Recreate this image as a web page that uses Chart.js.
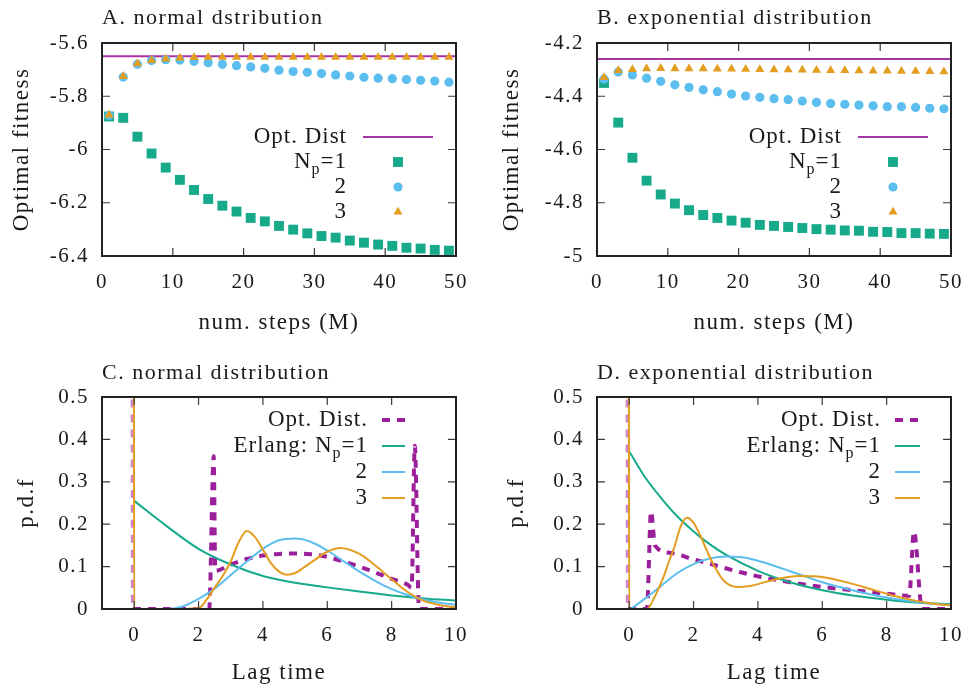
<!DOCTYPE html>
<html>
<head>
<meta charset="utf-8">
<script src="https://cdn.jsdelivr.net/npm/chart.js@4"></script>
<style>
  body { margin: 0; background: #fff; }
  #wrap { position: relative; width: 979px; height: 690px; }
  canvas { position: absolute; }
</style>
</head>
<body>
<div id="wrap">
  <canvas id="chartA" width="490" height="340" style="left:0;top:0"></canvas>
  <canvas id="chartB" width="489" height="340" style="left:490px;top:0"></canvas>
  <canvas id="chartC" width="490" height="350" style="left:0;top:340px"></canvas>
  <canvas id="chartD" width="489" height="350" style="left:490px;top:340px"></canvas>
</div>
<script>
// ---- data: panels A/B (optimal fitness vs. number of steps) ----
const stepsM = [1, 3, 5, 7, 9, 11, 13, 15, 17, 19, 21, 23, 25, 27, 29, 31, 33, 35, 37, 39, 41, 43, 45, 47, 49];
const stepsRange = [0, 50];
const stepTicks = [0, 10, 20, 30, 40, 50];

const optDistA = -5.65;
const fitNormal1 = [-5.876, -5.881, -5.952, -6.015, -6.068, -6.114, -6.152, -6.186, -6.211, -6.233, -6.257, -6.270, -6.287,
  -6.301, -6.315, -6.325, -6.331, -6.342, -6.350, -6.357, -6.362, -6.369, -6.372, -6.377, -6.380];
const fitNormal2 = [-5.872, -5.728, -5.680, -5.666, -5.663, -5.664, -5.669, -5.674, -5.680, -5.685, -5.690, -5.695, -5.702,
  -5.707, -5.710, -5.715, -5.720, -5.724, -5.729, -5.732, -5.734, -5.737, -5.740, -5.743, -5.747];
const fitNormal3 = [-5.870, -5.725, -5.678, -5.665, -5.660, -5.656, -5.654, -5.653, -5.653, -5.653, -5.653, -5.653, -5.653,
  -5.653, -5.653, -5.653, -5.653, -5.653, -5.653, -5.653, -5.653, -5.653, -5.653, -5.653, -5.653];
const fitTicksA = [-6.4, -6.2, -6, -5.8, -5.6];

const optDistB = -4.26;
const fitExp1 = [-4.350, -4.499, -4.631, -4.717, -4.769, -4.803, -4.828, -4.846, -4.857, -4.867, -4.875, -4.883, -4.887,
  -4.891, -4.895, -4.899, -4.901, -4.904, -4.905, -4.909, -4.910, -4.914, -4.914, -4.916, -4.917];
const fitExp2 = [-4.335, -4.309, -4.320, -4.332, -4.344, -4.357, -4.367, -4.376, -4.383, -4.392, -4.399, -4.404, -4.409,
  -4.413, -4.418, -4.423, -4.427, -4.430, -4.433, -4.436, -4.439, -4.439, -4.442, -4.445, -4.447];
const fitExp3 = [-4.329, -4.303, -4.299, -4.296, -4.295, -4.296, -4.296, -4.296, -4.297, -4.297, -4.298, -4.299, -4.300,
  -4.300, -4.301, -4.302, -4.303, -4.303, -4.304, -4.305, -4.305, -4.306, -4.306, -4.307, -4.308];
const fitTicksB = [-5, -4.8, -4.6, -4.4, -4.2];

const keyLabelsAB = ["Opt. Dist", "N_p=1", "2", "3"];

// ---- data: panels C/D (p.d.f. of lag time) ----
const lagTicks = [0, 2, 4, 6, 8, 10];
const pdfTicks = [0, 0.1, 0.2, 0.3, 0.4, 0.5];
const keyLabelsCD = ["Opt. Dist.", "Erlang: N_p=1", "2", "3"];

const optLagC = [-0.05, -0.04, 2.33, 2.47, 2.52, 3, 3.5, 4, 4.5, 5, 5.5, 6, 6.5, 7, 7.5, 8, 8.5, 8.62, 8.72, 8.85, 10];
const optPdfC = [0.6, 0, 0, 0.36, 0.09, 0.105, 0.118, 0.126, 0.13, 0.131, 0.129, 0.123, 0.112, 0.1, 0.086, 0.071, 0.057, 0.05, 0.385, 0, 0];
const erl1LagC = [0, 1, 2, 3, 4, 5, 6, 7, 8, 9, 10];
const erl1PdfC = [0.255, 0.196, 0.142, 0.105, 0.078, 0.062, 0.051, 0.041, 0.032, 0.025, 0.02];
const erl2LagC = [0, 1, 1.5, 2, 2.5, 3, 3.5, 4, 4.5, 5, 5.5, 6, 6.5, 7, 7.5, 8, 8.5, 9, 9.5, 10];
const erl2PdfC = [0, 0, 0.006, 0.024, 0.048, 0.08, 0.112, 0.142, 0.162, 0.166, 0.158, 0.138, 0.113, 0.088, 0.066, 0.047, 0.033, 0.022, 0.015, 0.01];
const erl3LagC = [-0.01, 0, 1, 2, 2.25, 2.5, 2.75, 3, 3.25, 3.5, 3.75, 4, 4.25, 4.5, 4.75, 5, 5.5, 6, 6.4, 7, 7.5, 8, 8.5, 9, 9.5, 10];
const erl3PdfC = [0.6, 0, 0, 0.002, 0.022, 0.05, 0.078, 0.112, 0.158, 0.184, 0.17, 0.14, 0.108, 0.088, 0.081, 0.085, 0.11, 0.135, 0.144, 0.13, 0.102, 0.07, 0.04, 0.019, 0.009, 0.004];

const optLagD = [-0.05, -0.04, 0.55, 0.68, 0.8, 1.3, 2, 2.5, 3, 3.5, 4, 5, 6, 7, 8, 8.7, 8.85, 9.1, 10];
const optPdfD = [0.6, 0, 0, 0.23, 0.15, 0.132, 0.117, 0.107, 0.096, 0.086, 0.077, 0.063, 0.052, 0.044, 0.036, 0.031, 0.183, 0, 0];
const erl1LagD = [0, 0.5, 1, 1.5, 2, 2.5, 3, 4, 5, 6, 7, 8, 9, 10];
const erl1PdfD = [0.372, 0.31, 0.261, 0.218, 0.183, 0.153, 0.128, 0.09, 0.063, 0.044, 0.031, 0.022, 0.015, 0.011];
const erl2LagD = [0.05, 0.5, 1, 1.5, 2, 2.5, 3, 3.5, 4, 4.5, 5, 5.5, 6, 7, 8, 9, 10];
const erl2PdfD = [0, 0.025, 0.055, 0.085, 0.106, 0.119, 0.124, 0.122, 0.114, 0.102, 0.089, 0.076, 0.063, 0.043, 0.027, 0.016, 0.009];
const erl3LagD = [-0.01, 0, 0.55, 0.8, 1.05, 1.25, 1.4, 1.6, 1.8, 2, 2.2, 2.4, 2.65, 2.95, 3.35, 3.8, 4.25, 4.75, 5.25, 5.75, 6.25, 7, 7.5, 8, 8.5, 9, 9.5, 10];
const erl3PdfD = [0.6, 0, 0, 0.03, 0.072, 0.115, 0.145, 0.195, 0.215, 0.203, 0.175, 0.14, 0.1, 0.066, 0.052, 0.055, 0.064, 0.073, 0.078, 0.077, 0.072, 0.058, 0.047, 0.036, 0.026, 0.018, 0.012, 0.008];

// ---- styling ----
const SERIF = "'Liberation Serif', 'Times New Roman', serif";
const INK = "#1a1a1a";
const PURPLE = "#9b1f9b";
const PURPLE_LIGHT = "#cf84cf";
const GREEN = "#16a98a";
const BLUE = "#5cbdef";
const ORANGE = "#e39d1f";

const zip = (xs, ys) => xs.map((x, i) => ({ x, y: ys[i] }));
const fmt = (v) => String(Math.round(v * 100) / 100);

// gnuplot-like text tracking
const tracking = {
  id: "tracking",
  beforeUpdate: (chart) => { chart.ctx.letterSpacing = "1.5px"; },
  beforeDraw: (chart) => { chart.ctx.letterSpacing = "1.5px"; },
};

// frame with inward ticks on all four sides
const frame = {
  id: "frame",
  afterDatasetsDraw(chart) {
    const { ctx, chartArea: a, scales: { x, y } } = chart;
    ctx.save();
    ctx.strokeStyle = "#3a3a3a";
    ctx.lineWidth = 1.2;
    ctx.beginPath();
    x.ticks.forEach((t) => {
      const px = x.getPixelForValue(t.value);
      ctx.moveTo(px, a.bottom); ctx.lineTo(px, a.bottom - 8);
      ctx.moveTo(px, a.top); ctx.lineTo(px, a.top + 8);
    });
    y.ticks.forEach((t) => {
      const py = y.getPixelForValue(t.value);
      ctx.moveTo(a.left, py); ctx.lineTo(a.left + 8, py);
      ctx.moveTo(a.right, py); ctx.lineTo(a.right - 8, py);
    });
    ctx.stroke();
    ctx.strokeStyle = "#222";
    ctx.lineWidth = 2;
    ctx.strokeRect(a.left, a.top, a.right - a.left, a.bottom - a.top);
    ctx.restore();
  },
};

// right-aligned text with "_x" subscripts
const drawKeyText = (ctx, text, xRight, y) => {
  const parts = text.split(/_(\w)/);
  const fonts = parts.map((_, i) => (i % 2 ? "16px " : "23px ") + SERIF);
  const widths = parts.map((p, i) => { ctx.font = fonts[i]; return ctx.measureText(p).width; });
  let x = xRight - widths.reduce((s, w) => s + w, 0);
  ctx.textAlign = "left";
  ctx.textBaseline = "middle";
  ctx.fillStyle = INK;
  parts.forEach((p, i) => {
    ctx.font = fonts[i];
    ctx.fillText(p, x, i % 2 ? y + 8 : y);
    x += widths[i];
  });
};

// gnuplot-style key: text right-aligned, sample to its right
const key = {
  id: "key",
  afterDatasetsDraw(chart, args, opts) {
    const { ctx, chartArea: a } = chart;
    ctx.save();
    ctx.letterSpacing = "1px";
    chart.data.datasets.forEach((ds, i) => {
      const y = a.top + opts.rowTop + i * opts.rowGap;
      drawKeyText(ctx, ds.label, a.right + opts.textRight, y);
      const x0 = a.right + opts.sampleFrom;
      const x1 = a.right + opts.sampleTo;
      if (ds.pointRadius > 0) {
        ctx.fillStyle = ds.backgroundColor;
        Chart.helpers.drawPoint(ctx, { pointStyle: ds.pointStyle, radius: ds.pointRadius, rotation: 0, borderWidth: 0 }, (x0 + x1) / 2, y);
      } else {
        ctx.strokeStyle = ds.borderColor;
        ctx.lineWidth = ds.borderWidth;
        ctx.setLineDash(ds.borderDash || []);
        ctx.beginPath();
        ctx.moveTo(x0, y);
        ctx.lineTo(x1, y);
        ctx.stroke();
        ctx.setLineDash([]);
      }
    });
    ctx.restore();
  },
};

const makeOptions = (cfg) => ({
  responsive: false,
  animation: false,
  events: [],
  layout: { padding: { left: 0, right: cfg.padRight, top: 0, bottom: 0 } },
  plugins: {
    legend: { display: false },
    tooltip: { enabled: false },
    title: {
      display: true,
      text: cfg.title,
      align: "start",
      fullSize: false,
      color: INK,
      font: { family: SERIF, size: 22, weight: "normal" },
      padding: { top: cfg.titleTop, bottom: cfg.top - cfg.titleTop - 26.4 },
    },
    key: cfg.key,
  },
  scales: {
    x: {
      type: "linear",
      min: cfg.xMin,
      max: cfg.xMax,
      afterFit: (s) => { s.height = cfg.height - cfg.bottom; },
      afterBuildTicks: (s) => { s.ticks = cfg.xTicks.map((value) => ({ value })); },
      grid: { display: false, drawTicks: false },
      border: { display: false },
      ticks: { color: INK, font: { family: SERIF, size: 21 }, padding: 14, maxRotation: 0, autoSkip: false, callback: fmt },
      title: { display: true, text: cfg.xTitle, color: INK, font: { family: SERIF, size: 23 }, padding: { top: 0, bottom: cfg.xTitlePad } },
    },
    y: {
      type: "linear",
      min: cfg.yMin,
      max: cfg.yMax,
      afterFit: (s) => { s.width = cfg.left; },
      afterBuildTicks: (s) => { s.ticks = cfg.yTicks.map((value) => ({ value })); },
      grid: { display: false, drawTicks: false },
      border: { display: false },
      ticks: { color: INK, font: { family: SERIF, size: 21 }, padding: 13, autoSkip: false, callback: fmt },
      title: { display: true, text: cfg.yTitle, color: INK, font: { family: SERIF, size: 23 }, padding: { top: cfg.yTitlePad, bottom: 0 } },
    },
  },
});

const fitnessDatasets = (opt, s1, s2, s3) => [
  { label: keyLabelsAB[0], data: zip(stepsRange, [opt, opt]), showLine: true, borderColor: "#a636a6", borderWidth: 2, pointRadius: 0, order: 3 },
  { label: keyLabelsAB[1], data: zip(stepsM, s1), pointStyle: "rect", pointRadius: 7, backgroundColor: GREEN, borderWidth: 0, order: 2 },
  { label: keyLabelsAB[2], data: zip(stepsM, s2), pointStyle: "circle", pointRadius: 4.6, backgroundColor: BLUE, borderWidth: 0, order: 1 },
  { label: keyLabelsAB[3], data: zip(stepsM, s3), pointStyle: "triangle", pointRadius: 5.2, backgroundColor: ORANGE, borderWidth: 0, order: 0 },
];

// the first segment of the optimal p.d.f. is the spike at zero, drawn paler
const spikeSegment = { borderColor: (c) => (c.p0DataIndex === 0 ? PURPLE_LIGHT : undefined) };

const pdfDatasets = (opt, e1, e2, e3) => [
  { label: keyLabelsCD[0], data: opt, borderColor: PURPLE, borderWidth: 4, borderDash: [8, 7], pointRadius: 0, order: 3, segment: spikeSegment },
  { label: keyLabelsCD[1], data: e1, borderColor: GREEN, borderWidth: 2, pointRadius: 0, order: 2 },
  { label: keyLabelsCD[2], data: e2, borderColor: BLUE, borderWidth: 2, pointRadius: 0, order: 1 },
  { label: keyLabelsCD[3], data: e3, borderColor: ORANGE, borderWidth: 2, pointRadius: 0, order: 0 },
].map((ds) => ({ ...ds, fill: false, cubicInterpolationMode: "monotone" }));

const keyAB = { rowTop: 94, rowGap: 25, textRight: -109, sampleFrom: -93, sampleTo: -23 };
const plugins = [tracking, frame, key];

new Chart(document.getElementById("chartA"), {
  type: "scatter",
  data: { datasets: fitnessDatasets(optDistA, fitNormal1, fitNormal2, fitNormal3) },
  options: makeOptions({
    title: "A. normal dstribution", height: 340, top: 43, bottom: 256, left: 102, padRight: 34, titleTop: 5.4,
    xMin: 0, xMax: 50, xTicks: stepTicks, xTitle: "num. steps (M)", xTitlePad: 3.6,
    yMin: -6.4, yMax: -5.6, yTicks: fitTicksA, yTitle: "Optimal fitness", yTitlePad: 8,
    key: keyAB,
  }),
  plugins,
});

new Chart(document.getElementById("chartB"), {
  type: "scatter",
  data: { datasets: fitnessDatasets(optDistB, fitExp1, fitExp2, fitExp3) },
  options: makeOptions({
    title: "B. exponential distribution", height: 340, top: 43, bottom: 256, left: 107, padRight: 28, titleTop: 5.4,
    xMin: 0, xMax: 50, xTicks: stepTicks, xTitle: "num. steps (M)", xTitlePad: 3.6,
    yMin: -5, yMax: -4.2, yTicks: fitTicksB, yTitle: "Optimal fitness", yTitlePad: 8,
    key: keyAB,
  }),
  plugins,
});

new Chart(document.getElementById("chartC"), {
  type: "line",
  data: { datasets: pdfDatasets(zip(optLagC, optPdfC), zip(erl1LagC, erl1PdfC), zip(erl2LagC, erl2PdfC), zip(erl3LagC, erl3PdfC)) },
  options: makeOptions({
    title: "C. normal distribution", height: 350, top: 57, bottom: 269, left: 102, padRight: 34, titleTop: 20,
    xMin: -1, xMax: 10, xTicks: lagTicks, xTitle: "Lag time", xTitlePad: 3,
    yMin: 0, yMax: 0.5, yTicks: pdfTicks, yTitle: "p.d.f", yTitlePad: 13,
    key: { rowTop: 23, rowGap: 26, textRight: -88, sampleFrom: -74, sampleTo: -51 },
  }),
  plugins,
});

new Chart(document.getElementById("chartD"), {
  type: "line",
  data: { datasets: pdfDatasets(zip(optLagD, optPdfD), zip(erl1LagD, erl1PdfD), zip(erl2LagD, erl2PdfD), zip(erl3LagD, erl3PdfD)) },
  options: makeOptions({
    title: "D. exponential distribution", height: 350, top: 57, bottom: 269, left: 107, padRight: 28, titleTop: 20,
    xMin: -1, xMax: 10, xTicks: lagTicks, xTitle: "Lag time", xTitlePad: 3,
    yMin: 0, yMax: 0.5, yTicks: pdfTicks, yTitle: "p.d.f", yTitlePad: 13,
    key: { rowTop: 23, rowGap: 26, textRight: -70, sampleFrom: -56, sampleTo: -31 },
  }),
  plugins,
});
</script>
</body>
</html>
